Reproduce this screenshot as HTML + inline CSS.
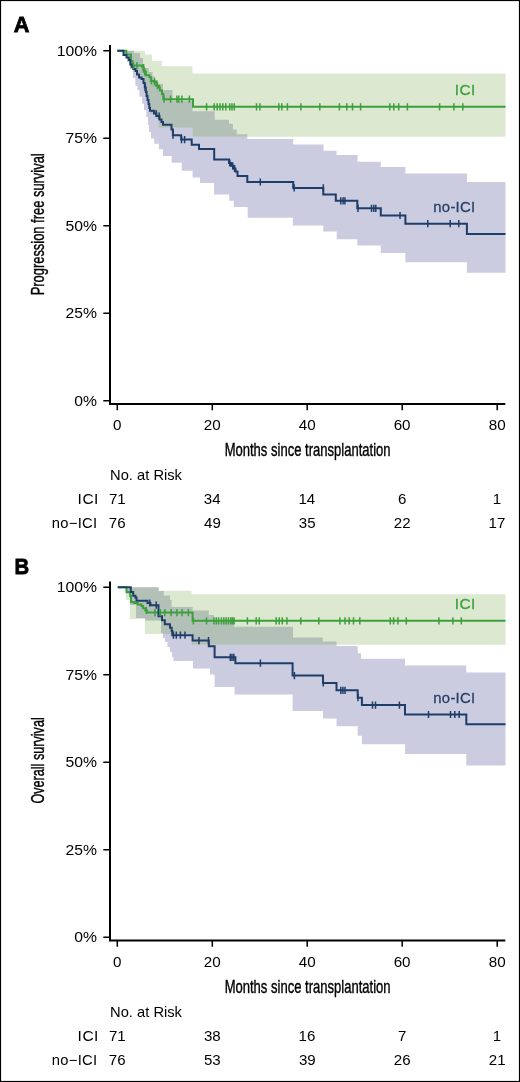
<!DOCTYPE html>
<html><head><meta charset="utf-8"><style>
html,body{margin:0;padding:0;background:#fff;width:520px;height:1082px;overflow:hidden}
svg{display:block;will-change:transform}
text{font-family:"Liberation Sans",sans-serif}
</style></head><body>
<svg width="520" height="1082" viewBox="0 0 520 1082" font-family='"Liberation Sans", sans-serif'>
<rect x="0" y="0" width="520" height="1082" fill="#fff"/>
<clipPath id="clipA"><path d="M117.30,50.80 L134.00,50.80 L134.00,53.00 L140.00,53.00 L140.00,58.00 L143.00,58.00 L143.00,64.00 L145.00,64.00 L145.00,68.00 L148.80,68.00 L148.80,72.00 L152.50,72.00 L152.50,76.30 L155.00,76.30 L155.00,80.00 L158.00,80.00 L158.00,84.00 L163.00,84.00 L163.00,90.00 L172.50,90.00 L172.50,101.00 L192.50,101.00 L192.50,111.20 L214.60,111.20 L214.60,119.80 L229.00,119.80 L229.00,123.70 L232.90,123.70 L232.90,129.40 L236.70,129.40 L236.70,134.20 L247.30,134.20 L247.30,139.00 L293.20,139.00 L293.20,144.60 L323.50,144.60 L323.50,150.80 L336.50,150.80 L336.50,155.00 L357.50,155.00 L357.50,161.80 L380.80,161.80 L380.80,167.00 L405.40,167.00 L405.40,173.50 L466.90,173.50 L466.90,182.00 L505.50,182.00 L505.50,272.80 L466.90,272.80 L466.90,262.30 L405.40,262.30 L405.40,253.10 L380.80,253.10 L380.80,245.40 L357.30,245.40 L357.30,239.20 L336.70,239.20 L336.70,231.50 L323.30,231.50 L323.30,225.40 L292.80,225.40 L292.80,217.70 L247.70,217.70 L247.70,206.90 L233.80,206.90 L233.80,200.80 L229.20,200.80 L229.20,194.60 L214.00,194.60 L214.00,183.00 L200.00,183.00 L200.00,177.50 L192.60,177.50 L192.60,170.80 L181.80,170.80 L181.80,162.70 L171.70,162.70 L171.70,156.00 L163.00,156.00 L163.00,149.20 L158.90,149.20 L158.90,143.80 L154.20,143.80 L154.20,138.50 L151.00,138.50 L151.00,132.00 L149.00,132.00 L149.00,125.00 L148.00,125.00 L148.00,117.00 L146.30,117.00 L146.30,110.00 L144.00,110.00 L144.00,103.50 L142.10,103.50 L142.10,96.70 L139.40,96.70 L139.40,90.00 L137.40,90.00 L137.40,86.00 L135.40,86.00 L135.40,78.00 L133.00,78.00 L133.00,69.00 L130.00,69.00 L130.00,62.00 L127.00,62.00 L127.00,56.00 L124.00,56.00 L124.00,50.80 L117.30,50.80 Z"/></clipPath>
<path d="M117.30,50.80 L134.00,50.80 L134.00,53.00 L140.00,53.00 L140.00,58.00 L143.00,58.00 L143.00,64.00 L145.00,64.00 L145.00,68.00 L148.80,68.00 L148.80,72.00 L152.50,72.00 L152.50,76.30 L155.00,76.30 L155.00,80.00 L158.00,80.00 L158.00,84.00 L163.00,84.00 L163.00,90.00 L172.50,90.00 L172.50,101.00 L192.50,101.00 L192.50,111.20 L214.60,111.20 L214.60,119.80 L229.00,119.80 L229.00,123.70 L232.90,123.70 L232.90,129.40 L236.70,129.40 L236.70,134.20 L247.30,134.20 L247.30,139.00 L293.20,139.00 L293.20,144.60 L323.50,144.60 L323.50,150.80 L336.50,150.80 L336.50,155.00 L357.50,155.00 L357.50,161.80 L380.80,161.80 L380.80,167.00 L405.40,167.00 L405.40,173.50 L466.90,173.50 L466.90,182.00 L505.50,182.00 L505.50,272.80 L466.90,272.80 L466.90,262.30 L405.40,262.30 L405.40,253.10 L380.80,253.10 L380.80,245.40 L357.30,245.40 L357.30,239.20 L336.70,239.20 L336.70,231.50 L323.30,231.50 L323.30,225.40 L292.80,225.40 L292.80,217.70 L247.70,217.70 L247.70,206.90 L233.80,206.90 L233.80,200.80 L229.20,200.80 L229.20,194.60 L214.00,194.60 L214.00,183.00 L200.00,183.00 L200.00,177.50 L192.60,177.50 L192.60,170.80 L181.80,170.80 L181.80,162.70 L171.70,162.70 L171.70,156.00 L163.00,156.00 L163.00,149.20 L158.90,149.20 L158.90,143.80 L154.20,143.80 L154.20,138.50 L151.00,138.50 L151.00,132.00 L149.00,132.00 L149.00,125.00 L148.00,125.00 L148.00,117.00 L146.30,117.00 L146.30,110.00 L144.00,110.00 L144.00,103.50 L142.10,103.50 L142.10,96.70 L139.40,96.70 L139.40,90.00 L137.40,90.00 L137.40,86.00 L135.40,86.00 L135.40,78.00 L133.00,78.00 L133.00,69.00 L130.00,69.00 L130.00,62.00 L127.00,62.00 L127.00,56.00 L124.00,56.00 L124.00,50.80 L117.30,50.80 Z" fill="#cbcce0"/>
<path d="M117.30,50.80 L145.00,50.80 L145.00,54.40 L152.00,54.40 L152.00,61.00 L162.00,61.00 L162.00,66.30 L192.50,66.30 L192.50,73.60 L505.50,73.60 L505.50,136.80 L192.50,136.80 L192.50,127.70 L158.50,127.70 L158.50,119.00 L156.00,119.00 L156.00,114.00 L150.00,114.00 L150.00,108.00 L148.50,108.00 L148.50,100.00 L146.50,100.00 L146.50,92.00 L145.00,92.00 L145.00,85.00 L143.00,85.00 L143.00,79.00 L139.00,79.00 L139.00,74.00 L136.00,74.00 L136.00,70.00 L133.00,70.00 L133.00,65.00 L130.50,65.00 L130.50,58.00 L127.00,58.00 L127.00,54.00 L124.00,54.00 L124.00,50.80 L117.30,50.80 Z" fill="#dce8cf"/>
<path d="M117.30,50.80 L145.00,50.80 L145.00,54.40 L152.00,54.40 L152.00,61.00 L162.00,61.00 L162.00,66.30 L192.50,66.30 L192.50,73.60 L505.50,73.60 L505.50,136.80 L192.50,136.80 L192.50,127.70 L158.50,127.70 L158.50,119.00 L156.00,119.00 L156.00,114.00 L150.00,114.00 L150.00,108.00 L148.50,108.00 L148.50,100.00 L146.50,100.00 L146.50,92.00 L145.00,92.00 L145.00,85.00 L143.00,85.00 L143.00,79.00 L139.00,79.00 L139.00,74.00 L136.00,74.00 L136.00,70.00 L133.00,70.00 L133.00,65.00 L130.50,65.00 L130.50,58.00 L127.00,58.00 L127.00,54.00 L124.00,54.00 L124.00,50.80 L117.30,50.80 Z" fill="#b2c0b7" clip-path="url(#clipA)"/>
<path d="M117.30,50.80 L126.30,50.80 L126.30,54.50 L131.00,54.50 L131.00,61.00 L132.50,61.00 L132.50,65.50 L142.50,65.50 L142.50,67.50 L143.80,67.50 L143.80,71.80 L145.90,71.80 L145.90,75.30 L149.40,75.30 L149.40,77.00 L150.80,77.00 L150.80,81.00 L154.20,81.00 L154.20,81.80 L156.30,81.80 L156.30,85.70 L159.00,85.70 L159.00,87.20 L159.80,87.20 L159.80,90.50 L162.00,90.50 L162.00,94.00 L163.30,94.00 L163.30,99.20 L193.00,99.20 L193.00,106.80 L505.50,106.80" fill="none" stroke="#3c9f3c" stroke-width="2"/>
<path d="M117.30,50.80 L123.50,50.80 L123.50,55.00 L126.50,55.00 L126.50,57.50 L128.80,57.50 L128.80,60.00 L130.30,60.00 L130.30,64.50 L131.70,64.50 L131.70,66.70 L133.30,66.70 L133.30,69.00 L135.50,69.00 L135.50,71.00 L137.00,71.00 L137.00,74.50 L139.00,74.50 L139.00,77.50 L141.50,77.50 L141.50,79.00 L143.50,79.00 L143.50,83.00 L144.80,83.00 L144.80,87.50 L145.80,87.50 L145.80,92.00 L146.60,92.00 L146.60,96.00 L147.50,96.00 L147.50,100.00 L148.50,100.00 L148.50,104.00 L149.30,104.00 L149.30,108.00 L150.00,108.00 L150.00,110.80 L154.00,110.80 L154.00,113.50 L156.50,113.50 L156.50,116.00 L159.50,116.00 L159.50,119.50 L161.50,119.50 L161.50,122.00 L163.00,122.00 L163.00,124.80 L171.50,124.80 L171.50,129.50 L172.90,129.50 L172.90,135.20 L181.20,135.20 L181.20,139.60 L191.70,139.60 L191.70,144.70 L199.00,144.70 L199.00,149.00 L214.20,149.00 L214.20,159.50 L229.00,159.50 L229.00,163.00 L231.00,163.00 L231.00,165.80 L233.20,165.80 L233.20,168.50 L235.50,168.50 L235.50,171.50 L237.50,171.50 L237.50,176.00 L247.30,176.00 L247.30,182.00 L293.20,182.00 L293.20,187.90 L323.30,187.90 L323.30,194.50 L335.80,194.50 L335.80,200.80 L357.30,200.80 L357.30,208.30 L380.80,208.30 L380.80,215.50 L405.40,215.50 L405.40,223.70 L466.90,223.70 L466.90,233.90 L505.50,233.90" fill="none" stroke="#1f3d69" stroke-width="2"/>
<path d="M133.50,61.90 V69.10 M136.90,61.90 V69.10 M143.20,63.90 V71.10 M144.80,68.20 V75.40 M151.50,77.40 V84.60 M154.60,78.20 V85.40 M157.40,82.10 V89.30 M164.00,95.60 V102.80 M170.60,95.60 V102.80 M176.90,95.60 V102.80 M178.80,95.60 V102.80 M181.90,95.60 V102.80 M189.40,95.60 V102.80 M206.60,103.20 V110.40 M214.20,103.20 V110.40 M217.20,103.20 V110.40 M220.00,103.20 V110.40 M222.80,103.20 V110.40 M225.80,103.20 V110.40 M229.70,103.20 V110.40 M232.00,103.20 V110.40 M234.30,103.20 V110.40 M256.50,103.20 V110.40 M259.90,103.20 V110.40 M278.80,103.20 V110.40 M281.80,103.20 V110.40 M287.40,103.20 V110.40 M300.90,103.20 V110.40 M319.80,103.20 V110.40 M339.40,103.20 V110.40 M346.80,103.20 V110.40 M352.50,103.20 V110.40 M360.60,103.20 V110.40 M389.80,103.20 V110.40 M393.80,103.20 V110.40 M398.70,103.20 V110.40 M407.40,103.20 V110.40 M439.60,103.20 V110.40 M453.90,103.20 V110.40 M462.80,103.20 V110.40" stroke="#3c9f3c" stroke-width="1.5"/>
<path d="M145.20,83.90 V91.10 M156.20,109.90 V117.10 M159.20,112.40 V119.60 M173.00,131.60 V138.80 M181.50,136.00 V143.20 M184.60,136.00 V143.20 M229.80,159.40 V166.60 M232.70,162.20 V169.40 M234.60,164.90 V172.10 M260.30,178.40 V185.60 M294.20,184.30 V191.50 M323.30,184.30 V191.50 M340.80,197.20 V204.40 M343.10,197.20 V204.40 M344.90,197.20 V204.40 M358.00,204.70 V211.90 M371.50,204.70 V211.90 M373.80,204.70 V211.90 M375.80,204.70 V211.90 M400.00,211.90 V219.10 M427.80,220.10 V227.30 M450.20,220.10 V227.30 M458.80,220.10 V227.30" stroke="#1f3d69" stroke-width="1.5"/>
<text transform="translate(454.77,95.20) scale(1.0700,1)" font-size="14.5" fill="#3c9f3c" stroke="#3c9f3c" stroke-width="0.25" letter-spacing="0.293">ICI</text>
<text transform="translate(433.31,211.50) scale(1.0300,1)" font-size="14.5" fill="#253f66" stroke="#253f66" stroke-width="0.25" letter-spacing="0.231">no-ICI</text>
<path d="M110,45.0 V405.0 M109,404.0 H505.3" stroke="#000000" stroke-width="2" fill="none"/>
<path d="M103.3,50.8 H109.5 M103.3,138.3 H109.5 M103.3,225.8 H109.5 M103.3,313.3 H109.5 M103.3,400.8 H109.5 M117.3,404.0 V410.3 M212.3,404.0 V410.3 M307.2,404.0 V410.3 M402.2,404.0 V410.3 M497.2,404.0 V410.3" stroke="#000000" stroke-width="1.5" fill="none"/>
<text transform="translate(56.78,55.60) scale(1.0500,1)" font-size="15" fill="#000">100%</text>
<text transform="translate(65.54,143.10) scale(1.0500,1)" font-size="15" fill="#000">75%</text>
<text transform="translate(65.54,230.60) scale(1.0500,1)" font-size="15" fill="#000">50%</text>
<text transform="translate(65.54,318.10) scale(1.0500,1)" font-size="15" fill="#000">25%</text>
<text transform="translate(74.29,405.60) scale(1.0500,1)" font-size="15" fill="#000">0%</text>
<text transform="translate(113.07,430.30) scale(1.0500,1)" font-size="14.5" fill="#000">0</text>
<text transform="translate(203.75,430.30) scale(1.0500,1)" font-size="14.5" fill="#000">20</text>
<text transform="translate(298.86,430.30) scale(1.0500,1)" font-size="14.5" fill="#000">40</text>
<text transform="translate(393.64,430.30) scale(1.0500,1)" font-size="14.5" fill="#000">60</text>
<text transform="translate(488.70,430.30) scale(1.0500,1)" font-size="14.5" fill="#000">80</text>
<text transform="translate(224.63,456.00) scale(0.7050,1)" font-size="18.5" fill="#000" stroke="#000" stroke-width="0.4">Months since transplantation</text>
<text transform="translate(44.10,295.36) rotate(-90) scale(0.6986,1)" font-size="18.5" fill="#000" stroke="#000" stroke-width="0.4">Progression free survival</text>
<text transform="translate(110.09,480.00) scale(1.0139,1)" font-size="14.5" fill="#000">No. at Risk</text>
<text transform="translate(77.57,504.00) scale(1.0700,1)" font-size="14.5" fill="#000" letter-spacing="0.480">ICI</text>
<text transform="translate(51.82,527.60) scale(1.0200,1)" font-size="14.5" fill="#000" letter-spacing="0.265">no−ICI</text>
<text transform="translate(108.90,504.00) scale(1.0400,1)" font-size="14.5" fill="#000">71</text>
<text transform="translate(203.85,504.00) scale(1.0400,1)" font-size="14.5" fill="#000">34</text>
<text transform="translate(298.46,504.00) scale(1.0400,1)" font-size="14.5" fill="#000">14</text>
<text transform="translate(397.95,504.00) scale(1.0400,1)" font-size="14.5" fill="#000">6</text>
<text transform="translate(492.80,504.00) scale(1.0400,1)" font-size="14.5" fill="#000">1</text>
<text transform="translate(108.86,527.60) scale(1.0400,1)" font-size="14.5" fill="#000">76</text>
<text transform="translate(204.10,527.60) scale(1.0400,1)" font-size="14.5" fill="#000">49</text>
<text transform="translate(298.85,527.60) scale(1.0400,1)" font-size="14.5" fill="#000">35</text>
<text transform="translate(393.82,527.60) scale(1.0400,1)" font-size="14.5" fill="#000">22</text>
<text transform="translate(488.62,527.60) scale(1.0400,1)" font-size="14.5" fill="#000">17</text>
<text transform="translate(13.66,32.10) scale(0.9628,1)" font-size="22.6" fill="#000" font-weight="bold" stroke="#000" stroke-width="0.8">A</text>
<clipPath id="clipB"><path d="M117.80,587.20 L158.50,587.20 L158.50,591.00 L163.80,591.00 L163.80,595.40 L170.00,595.40 L170.00,600.00 L171.50,600.00 L171.50,607.00 L192.60,607.00 L192.60,610.40 L208.80,610.40 L208.80,615.00 L214.00,615.00 L214.00,621.00 L234.00,621.00 L234.00,626.80 L293.00,626.80 L293.00,637.40 L322.80,637.40 L322.80,641.60 L336.50,641.60 L336.50,645.90 L357.70,645.90 L357.70,653.30 L361.00,653.30 L361.00,658.70 L405.00,658.70 L405.00,665.40 L466.20,665.40 L466.20,672.50 L505.50,672.50 L505.50,765.40 L466.30,765.40 L466.30,753.90 L405.00,753.90 L405.00,744.20 L361.90,744.20 L361.90,735.80 L357.70,735.80 L357.70,726.30 L336.50,726.30 L336.50,718.40 L323.00,718.40 L323.00,711.00 L292.60,711.00 L292.60,694.60 L234.60,694.60 L234.60,687.00 L214.60,687.00 L214.60,674.60 L210.00,674.60 L210.00,668.50 L193.00,668.50 L193.00,661.00 L173.50,661.00 L173.50,657.00 L172.00,657.00 L172.00,652.00 L170.00,652.00 L170.00,647.00 L167.50,647.00 L167.50,642.00 L165.00,642.00 L165.00,638.00 L163.00,638.00 L163.00,633.00 L161.00,633.00 L161.00,620.50 L145.00,620.50 L145.00,618.00 L136.00,618.00 L136.00,605.00 L130.00,605.00 L130.00,594.00 L126.00,594.00 L126.00,587.20 L117.80,587.20 Z"/></clipPath>
<path d="M117.80,587.20 L158.50,587.20 L158.50,591.00 L163.80,591.00 L163.80,595.40 L170.00,595.40 L170.00,600.00 L171.50,600.00 L171.50,607.00 L192.60,607.00 L192.60,610.40 L208.80,610.40 L208.80,615.00 L214.00,615.00 L214.00,621.00 L234.00,621.00 L234.00,626.80 L293.00,626.80 L293.00,637.40 L322.80,637.40 L322.80,641.60 L336.50,641.60 L336.50,645.90 L357.70,645.90 L357.70,653.30 L361.00,653.30 L361.00,658.70 L405.00,658.70 L405.00,665.40 L466.20,665.40 L466.20,672.50 L505.50,672.50 L505.50,765.40 L466.30,765.40 L466.30,753.90 L405.00,753.90 L405.00,744.20 L361.90,744.20 L361.90,735.80 L357.70,735.80 L357.70,726.30 L336.50,726.30 L336.50,718.40 L323.00,718.40 L323.00,711.00 L292.60,711.00 L292.60,694.60 L234.60,694.60 L234.60,687.00 L214.60,687.00 L214.60,674.60 L210.00,674.60 L210.00,668.50 L193.00,668.50 L193.00,661.00 L173.50,661.00 L173.50,657.00 L172.00,657.00 L172.00,652.00 L170.00,652.00 L170.00,647.00 L167.50,647.00 L167.50,642.00 L165.00,642.00 L165.00,638.00 L163.00,638.00 L163.00,633.00 L161.00,633.00 L161.00,620.50 L145.00,620.50 L145.00,618.00 L136.00,618.00 L136.00,605.00 L130.00,605.00 L130.00,594.00 L126.00,594.00 L126.00,587.20 L117.80,587.20 Z" fill="#cbcce0"/>
<path d="M117.80,587.20 L159.00,587.20 L159.00,590.80 L191.50,590.80 L191.50,594.20 L505.50,594.20 L505.50,644.70 L191.50,644.70 L191.50,634.00 L145.00,634.00 L145.00,619.00 L130.00,619.00 L130.00,600.00 L126.00,600.00 L126.00,587.20 L117.80,587.20 Z" fill="#dce8cf"/>
<path d="M117.80,587.20 L159.00,587.20 L159.00,590.80 L191.50,590.80 L191.50,594.20 L505.50,594.20 L505.50,644.70 L191.50,644.70 L191.50,634.00 L145.00,634.00 L145.00,619.00 L130.00,619.00 L130.00,600.00 L126.00,600.00 L126.00,587.20 L117.80,587.20 Z" fill="#b2c0b7" clip-path="url(#clipB)"/>
<path d="M117.80,587.20 L126.50,587.20 L126.50,592.00 L130.20,592.00 L130.20,596.00 L131.00,596.00 L131.00,602.00 L134.20,602.00 L134.20,603.00 L137.70,603.00 L137.70,604.50 L141.50,604.50 L141.50,606.00 L143.00,606.00 L143.00,608.20 L145.40,608.20 L145.40,610.50 L147.00,610.50 L147.00,612.60 L192.60,612.60 L192.60,620.80 L505.50,620.80" fill="none" stroke="#3c9f3c" stroke-width="2"/>
<path d="M117.80,587.20 L130.80,587.20 L130.80,592.00 L133.20,592.00 L133.20,595.80 L135.40,595.80 L135.40,597.40 L136.50,597.40 L136.50,600.70 L147.50,600.70 L147.50,603.00 L150.40,603.00 L150.40,605.20 L158.50,605.20 L158.50,616.20 L162.00,616.20 L162.00,620.20 L164.80,620.20 L164.80,624.20 L170.00,624.20 L170.00,627.70 L171.70,627.70 L171.70,631.00 L172.30,631.00 L172.30,635.20 L192.60,635.20 L192.60,640.60 L208.80,640.60 L208.80,646.20 L214.60,646.20 L214.60,657.30 L235.40,657.30 L235.40,663.20 L292.60,663.20 L292.60,675.60 L323.00,675.60 L323.00,682.90 L336.50,682.90 L336.50,690.30 L357.70,690.30 L357.70,697.70 L361.90,697.70 L361.90,705.10 L405.00,705.10 L405.00,714.50 L466.30,714.50 L466.30,724.20 L505.50,724.20" fill="none" stroke="#1f3d69" stroke-width="2"/>
<path d="M146.30,606.90 V614.10 M155.00,609.00 V616.20 M160.20,609.00 V616.20 M164.80,609.00 V616.20 M171.10,609.00 V616.20 M176.90,609.00 V616.20 M182.10,609.00 V616.20 M188.40,609.00 V616.20 M193.40,617.20 V624.40 M206.50,617.20 V624.40 M214.00,617.20 V624.40 M216.30,617.20 V624.40 M218.60,617.20 V624.40 M221.40,617.20 V624.40 M223.80,617.20 V624.40 M226.10,617.20 V624.40 M228.40,617.20 V624.40 M230.70,617.20 V624.40 M232.40,617.20 V624.40 M234.10,617.20 V624.40 M247.40,617.20 V624.40 M256.20,617.20 V624.40 M259.20,617.20 V624.40 M276.20,617.20 V624.40 M279.20,617.20 V624.40 M282.30,617.20 V624.40 M286.90,617.20 V624.40 M300.80,617.20 V624.40 M318.80,617.20 V624.40 M339.90,617.20 V624.40 M345.00,617.20 V624.40 M349.20,617.20 V624.40 M353.50,617.20 V624.40 M359.80,617.20 V624.40 M390.30,617.20 V624.40 M393.60,617.20 V624.40 M397.90,617.20 V624.40 M406.30,617.20 V624.40 M438.90,617.20 V624.40 M452.90,617.20 V624.40 M461.30,617.20 V624.40" stroke="#3c9f3c" stroke-width="1.5"/>
<path d="M149.80,599.40 V606.60 M156.20,601.60 V608.80 M173.40,631.60 V638.80 M176.30,631.60 V638.80 M180.40,631.60 V638.80 M185.00,631.60 V638.80 M199.00,637.00 V644.20 M208.50,637.00 V644.20 M230.30,653.70 V660.90 M232.00,653.70 V660.90 M233.80,653.70 V660.90 M260.40,659.60 V666.80 M294.40,672.00 V679.20 M323.30,679.30 V686.50 M340.80,686.70 V693.90 M342.90,686.70 V693.90 M345.00,686.70 V693.90 M358.00,694.10 V701.30 M372.50,701.50 V708.70 M375.50,701.50 V708.70 M399.40,701.50 V708.70 M428.50,710.90 V718.10 M450.50,710.90 V718.10 M454.80,710.90 V718.10 M459.20,710.90 V718.10" stroke="#1f3d69" stroke-width="1.5"/>
<text transform="translate(454.77,608.80) scale(1.0700,1)" font-size="14.5" fill="#3c9f3c" stroke="#3c9f3c" stroke-width="0.25" letter-spacing="0.293">ICI</text>
<text transform="translate(433.31,703.00) scale(1.0300,1)" font-size="14.5" fill="#253f66" stroke="#253f66" stroke-width="0.25" letter-spacing="0.231">no-ICI</text>
<path d="M110,581.4 V941.4 M109,940.4 H505.3" stroke="#000000" stroke-width="2" fill="none"/>
<path d="M103.3,587.2 H109.5 M103.3,674.7 H109.5 M103.3,762.2 H109.5 M103.3,849.7 H109.5 M103.3,937.2 H109.5 M117.3,940.4 V946.7 M212.3,940.4 V946.7 M307.2,940.4 V946.7 M402.2,940.4 V946.7 M497.2,940.4 V946.7" stroke="#000000" stroke-width="1.5" fill="none"/>
<text transform="translate(56.78,592.00) scale(1.0500,1)" font-size="15" fill="#000">100%</text>
<text transform="translate(65.54,679.50) scale(1.0500,1)" font-size="15" fill="#000">75%</text>
<text transform="translate(65.54,767.00) scale(1.0500,1)" font-size="15" fill="#000">50%</text>
<text transform="translate(65.54,854.50) scale(1.0500,1)" font-size="15" fill="#000">25%</text>
<text transform="translate(74.29,942.00) scale(1.0500,1)" font-size="15" fill="#000">0%</text>
<text transform="translate(113.07,966.70) scale(1.0500,1)" font-size="14.5" fill="#000">0</text>
<text transform="translate(203.75,966.70) scale(1.0500,1)" font-size="14.5" fill="#000">20</text>
<text transform="translate(298.86,966.70) scale(1.0500,1)" font-size="14.5" fill="#000">40</text>
<text transform="translate(393.64,966.70) scale(1.0500,1)" font-size="14.5" fill="#000">60</text>
<text transform="translate(488.70,966.70) scale(1.0500,1)" font-size="14.5" fill="#000">80</text>
<text transform="translate(224.63,993.00) scale(0.7050,1)" font-size="18.5" fill="#000" stroke="#000" stroke-width="0.4">Months since transplantation</text>
<text transform="translate(44.30,803.59) rotate(-90) scale(0.6836,1)" font-size="18.5" fill="#000" stroke="#000" stroke-width="0.4">Overall survival</text>
<text transform="translate(110.09,1017.00) scale(1.0139,1)" font-size="14.5" fill="#000">No. at Risk</text>
<text transform="translate(77.57,1041.00) scale(1.0700,1)" font-size="14.5" fill="#000" letter-spacing="0.480">ICI</text>
<text transform="translate(51.82,1064.60) scale(1.0200,1)" font-size="14.5" fill="#000" letter-spacing="0.265">no−ICI</text>
<text transform="translate(108.90,1041.00) scale(1.0400,1)" font-size="14.5" fill="#000">71</text>
<text transform="translate(203.95,1041.00) scale(1.0400,1)" font-size="14.5" fill="#000">38</text>
<text transform="translate(298.57,1041.00) scale(1.0400,1)" font-size="14.5" fill="#000">16</text>
<text transform="translate(398.00,1041.00) scale(1.0400,1)" font-size="14.5" fill="#000">7</text>
<text transform="translate(492.80,1041.00) scale(1.0400,1)" font-size="14.5" fill="#000">1</text>
<text transform="translate(108.86,1064.60) scale(1.0400,1)" font-size="14.5" fill="#000">76</text>
<text transform="translate(203.95,1064.60) scale(1.0400,1)" font-size="14.5" fill="#000">53</text>
<text transform="translate(298.88,1064.60) scale(1.0400,1)" font-size="14.5" fill="#000">39</text>
<text transform="translate(393.77,1064.60) scale(1.0400,1)" font-size="14.5" fill="#000">26</text>
<text transform="translate(488.81,1064.60) scale(1.0400,1)" font-size="14.5" fill="#000">21</text>
<text transform="translate(14.54,573.60) scale(0.8995,1)" font-size="22.6" fill="#000" font-weight="bold" stroke="#000" stroke-width="0.8">B</text>
<rect x="0.5" y="0.5" width="519" height="1081" fill="none" stroke="#000" stroke-width="1.2"/>
</svg>
</body></html>
